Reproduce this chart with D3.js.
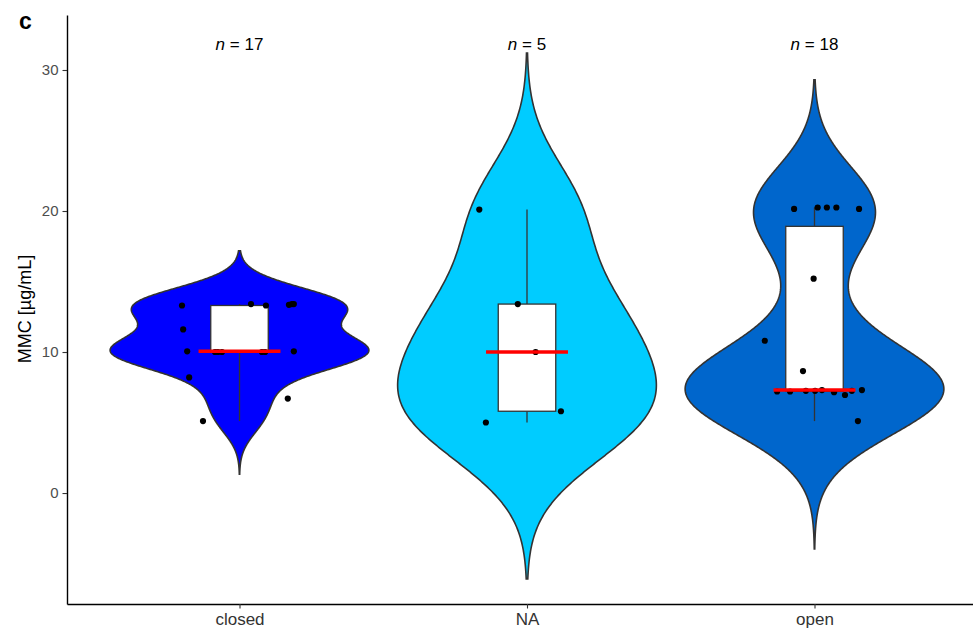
<!DOCTYPE html>
<html>
<head>
<meta charset="utf-8">
<script src="https://cdn.jsdelivr.net/npm/d3@7"></script>
<style>
  body { margin: 0; background: #fff; }
  text { font-family: "Liberation Sans", Arial, sans-serif; }
</style>
</head>
<body>
<svg id="chart" width="973" height="630"></svg>
<script>
// groups and fills
const groups = ["closed", "NA", "open"];
const fills = ["#0000FF", "#00CCFF", "#0066CC"];
const counts = ["17", "5", "18"];
const yTicks = [0, 10, 20, 30];

// MMC values, with the horizontal jitter of each dot (category units)
const closedValues = [13.3, 11.6, 10.05, 8.2, 5.1, 13.4, 13.3, 13.35, 13.4, 10.05, 6.7, 10.0, 10.0, 10.0, 10.0, 10.0, 13.4];
const closedJitter = [-0.200, -0.196, -0.182, -0.175, -0.127, 0.040, 0.092, 0.172, 0.189, 0.189, 0.168, -0.085, -0.075, -0.061, 0.089, 0.078, 0.182];
const naValues = [20.1, 13.4, 10.0, 5.8, 5.0];
const naJitter = [-0.166, -0.032, 0.030, 0.118, -0.143];
const openValues = [20.15, 20.25, 20.25, 20.25, 20.15, 15.2, 10.8, 8.65, 7.2, 7.25, 7.3, 7.15, 6.95, 7.25, 7.3, 5.1, 7.2, 7.25];
const openJitter = [-0.071, 0.011, 0.043, 0.076, 0.155, -0.003, -0.173, -0.040, -0.130, -0.030, 0.026, 0.068, 0.106, 0.130, 0.165, 0.151, -0.085, 0.002];

const allValues = [closedValues, naValues, openValues];
const allJitter = [closedJitter, naJitter, openJitter];

const svg = d3.select("#chart");
const x = d3.scaleLinear().domain([0.4, 3.6]).range([67, 987]);
const y = d3.scaleLinear().domain([-7.87, 33.9]).range([604, 15]);

// R's bw.nrd0
function bwNrd0(v) {
  const s = v.slice().sort(d3.ascending);
  const sd = d3.deviation(s);
  const iqr = d3.quantileSorted(s, 0.75) - d3.quantileSorted(s, 0.25);
  let lo = Math.min(sd, iqr / 1.34);
  if (!(lo > 0)) lo = sd || Math.abs(s[0]) || 1;
  return 0.9 * lo * Math.pow(s.length, -0.2);
}

function kde(v) {
  const bw = bwNrd0(v);
  const lo = d3.min(v) - 3 * bw, hi = d3.max(v) + 3 * bw;
  const pts = [];
  for (let i = 0; i < 512; i++) {
    const t = lo + (hi - lo) * i / 511;
    let dens = 0;
    for (const d of v) {
      const z = (t - d) / bw;
      dens += Math.exp(-0.5 * z * z);
    }
    pts.push({ t: t, d: dens / (v.length * bw * Math.sqrt(2 * Math.PI)) });
  }
  return pts;
}

const halfWidth = 0.45;
const gViolin = svg.append("g");
const gBox = svg.append("g");
const gPts = svg.append("g");
const gMed = svg.append("g");

groups.forEach((g, i) => {
  const cx = i + 1;
  const v = allValues[i];
  const dens = kde(v);
  const maxD = d3.max(dens, d => d.d);
  const area = d3.area()
    .y(d => y(d.t))
    .x0(d => x(cx - halfWidth * d.d / maxD))
    .x1(d => x(cx + halfWidth * d.d / maxD));
  gViolin.append("path")
    .datum(dens)
    .attr("d", area)
    .attr("fill", fills[i])
    .attr("stroke", "#333333")
    .attr("stroke-width", 1.6);

  // boxplot
  const s = v.slice().sort(d3.ascending);
  const q1 = d3.quantileSorted(s, 0.25), q3 = d3.quantileSorted(s, 0.75), med = d3.quantileSorted(s, 0.5);
  const iqr = q3 - q1;
  const wLo = d3.min(s.filter(d => d >= q1 - 1.5 * iqr));
  const wHi = d3.max(s.filter(d => d <= q3 + 1.5 * iqr));
  const bw = 0.1;
  gBox.append("line")
    .attr("x1", x(cx)).attr("x2", x(cx))
    .attr("y1", y(wHi)).attr("y2", y(q3))
    .attr("stroke", "#333333").attr("stroke-width", 1.3);
  gBox.append("line")
    .attr("x1", x(cx)).attr("x2", x(cx))
    .attr("y1", y(q1)).attr("y2", y(wLo))
    .attr("stroke", "#333333").attr("stroke-width", 1.3);
  gBox.append("rect")
    .attr("x", x(cx - bw)).attr("width", x(cx + bw) - x(cx - bw))
    .attr("y", y(q3)).attr("height", Math.max(0, y(q1) - y(q3)))
    .attr("fill", "white")
    .attr("stroke", "#333333").attr("stroke-width", 1.3);
  gBox.append("line")
    .attr("x1", x(cx - bw)).attr("x2", x(cx + bw))
    .attr("y1", y(med)).attr("y2", y(med))
    .attr("stroke", "#333333").attr("stroke-width", 2);

  // jittered points
  gPts.selectAll(null)
    .data(v.map((d, k) => ({ v: d, j: allJitter[i][k] })))
    .join("circle")
    .attr("cx", d => x(cx + d.j))
    .attr("cy", d => y(d.v))
    .attr("r", 3.1)
    .attr("fill", "black");

  // red median bar
  gMed.append("line")
    .attr("x1", x(cx - 0.1425)).attr("x2", x(cx + 0.1425))
    .attr("y1", y(med)).attr("y2", y(med))
    .attr("stroke", "#FF0000").attr("stroke-width", 3.5);

  // n labels
  const t = svg.append("text")
    .attr("x", x(cx))
    .attr("y", 50)
    .attr("text-anchor", "middle")
    .attr("font-size", 17)
    .attr("fill", "black");
  t.append("tspan").attr("font-style", "italic").text("n");
  t.append("tspan").text(" = " + counts[i]);
});

// axes
const yAxis = svg.append("g")
  .attr("transform", "translate(67,0)")
  .call(d3.axisLeft(y).tickValues(yTicks).tickSize(4.5).tickSizeOuter(0).tickPadding(4));
yAxis.select(".domain").attr("stroke", "#000").attr("stroke-width", 1.4);
yAxis.selectAll(".tick line").attr("stroke", "#333").attr("stroke-width", 1.1);
yAxis.selectAll(".tick text").attr("fill", "#4D4D4D").attr("font-size", 15)
  .attr("font-family", "Liberation Sans, Arial, sans-serif");

const xAxis = svg.append("g")
  .attr("transform", "translate(0,604)")
  .call(d3.axisBottom(x).tickValues([1, 2, 3]).tickFormat(d => groups[d - 1]).tickSize(4.5).tickSizeOuter(0).tickPadding(4));
xAxis.select(".domain").attr("stroke", "#000").attr("stroke-width", 1.4);
xAxis.selectAll(".tick line").attr("stroke", "#333").attr("stroke-width", 1.1);
xAxis.selectAll(".tick text").attr("fill", "#333").attr("font-size", 17)
  .attr("font-family", "Liberation Sans, Arial, sans-serif");

svg.append("text")
  .attr("transform", "translate(31,309) rotate(-90)")
  .attr("text-anchor", "middle")
  .attr("font-size", 18)
  .attr("fill", "black")
  .text("MMC [µg/mL]");

svg.append("text")
  .attr("x", 19)
  .attr("y", 29)
  .attr("font-size", 23)
  .attr("font-weight", "bold")
  .attr("fill", "black")
  .text("c");
</script>
</body>
</html>
